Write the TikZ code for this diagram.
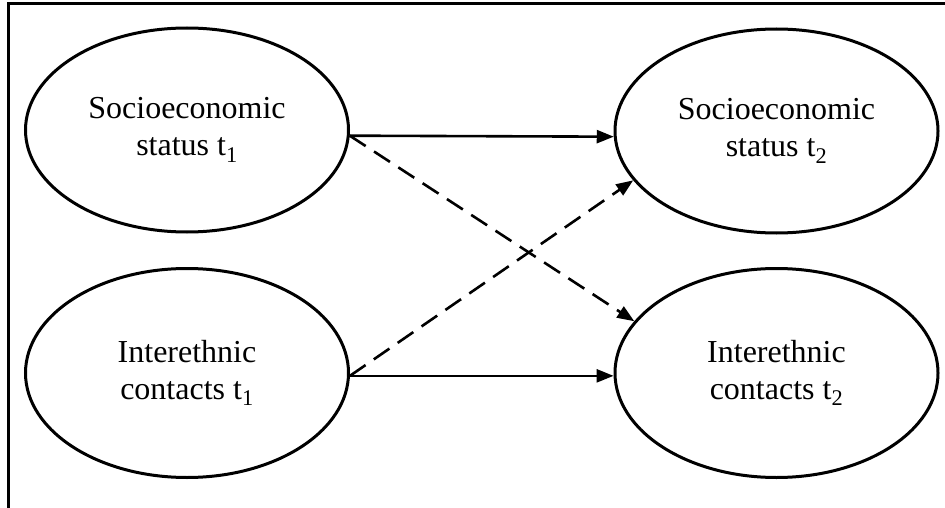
\documentclass[tikz,border=0pt]{standalone}
\usepackage{fontspec}
\setmainfont{Liberation Serif}
\usetikzlibrary{shapes.geometric,arrows.meta}
\begin{document}
\begin{tikzpicture}[x=1pt,y=-1pt,
  latent/.style={ellipse, draw, line width=3pt, minimum width=323pt, minimum height=204pt,
    inner sep=0pt, align=center, font=\fontsize{32}{37}\selectfont},
  lowlatent/.style={latent, minimum height=209pt},
  effect/.style={line width=2.6pt, -{Triangle[length=17pt,width=13pt]}},
  crosseffect/.style={effect, dash pattern=on 19pt off 10pt}]
\useasboundingbox (0,0) rectangle (945,508);
\draw[line width=3pt] (8,508) -- (8,4) -- (945,4);
\node[latent] (s1) at (187,130) {Socioeconomic\\status t\textsubscript{1}};
\node[latent] (s2) at (776.5,131) {Socioeconomic\\status t\textsubscript{2}};
\node[lowlatent] (i1) at (187,373) {Interethnic\\contacts t\textsubscript{1}};
\node[lowlatent] (i2) at (776.5,373) {Interethnic\\contacts t\textsubscript{2}};
\draw[effect] (s1.-2.8) -- (s2.182.5);
\draw[effect] (i1.-1.4) -- (i2.181.4);
\draw[crosseffect] (s1.-2.8) -- (i2.160.8);
\draw[crosseffect] (i1.-1.4) -- (s2.199.3);
\end{tikzpicture}
\end{document}
